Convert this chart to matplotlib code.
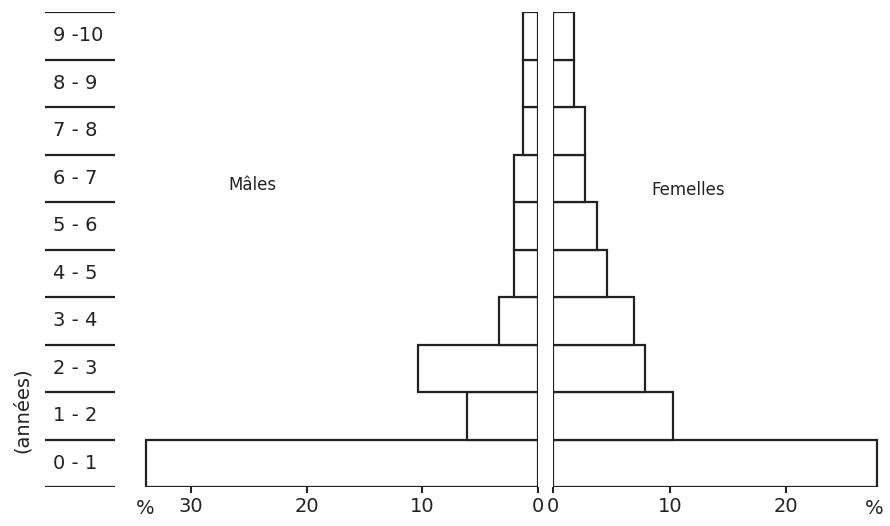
import matplotlib.pyplot as plt

plt.rcParams['font.family'] = ['Liberation Sans Narrow', 'DejaVu Sans']

# Classes d'age (annees), de bas en haut
ages = ['0 - 1', '1 - 2', '2 - 3', '3 - 4', '4 - 5', '5 - 6', '6 - 7', '7 - 8', '8 - 9', '9 -10']
males = [33.9, 6.1, 10.4, 3.4, 2.1, 2.1, 2.1, 1.3, 1.3, 1.3]
femelles = [27.8, 10.3, 7.9, 6.9, 4.6, 3.8, 2.7, 2.7, 1.8, 1.8]

W, H = 890, 526
fig = plt.figure(figsize=(W / 100, H / 100), dpi=100)
fig.patch.set_facecolor('white')

y_bot = 1 - 487 / H
y_h = (487 - 12) / H

def px(x):
    return x / W

ax_l = fig.add_axes([px(130), y_bot, px(538 - 130), y_h])
ax_r = fig.add_axes([px(553), y_bot, px(885 - 553), y_h])
ax_lab = fig.add_axes([px(45), y_bot, px(115 - 45), y_h])

pos = [i + 0.5 for i in range(len(ages))]

ax_l.barh(pos, males, height=1.0, color='white', edgecolor='#222222', linewidth=1.6)
ax_r.barh(pos, femelles, height=1.0, color='white', edgecolor='#222222', linewidth=1.6)

ax_l.set_xlim(35.3, 0)
ax_r.set_xlim(0, 28.45)

for ax in (ax_l, ax_r):
    ax.set_ylim(0, 10)
    for s in ax.spines.values():
        s.set_visible(False)
    ax.set_yticks([])
    ax.tick_params(axis='x', direction='out', length=4, width=1.5,
                   labelsize=14, colors='#222222', pad=3)

ax_l.set_xticks([30, 20, 10, 0])
ax_r.set_xticks([0, 10, 20])

# signes % en bout d'axe
fig.text(px(145), 1 - 509 / H, '%', fontsize=14, ha='center', va='center', color='#222222')
fig.text(px(874), 1 - 509 / H, '%', fontsize=14, ha='center', va='center', color='#222222')

fig.text(px(228), 1 - 185 / H, 'Mâles', fontsize=12, color='#222222',
         ha='left', va='center')
fig.text(px(651), 1 - 190 / H, 'Femelles', fontsize=12, color='#222222',
         ha='left', va='center')

# colonne des classes d'age
ax_lab.set_xlim(0, 1)
ax_lab.set_ylim(0, 10)
ax_lab.axis('off')
ax_lab.hlines(range(len(ages) + 1), 0, 1, color='#222222', linewidth=1.6)
for p, a in zip(pos, ages):
    ax_lab.text(0.12, p, a, fontsize=14, ha='left', va='center', color='#222222')

fig.text(px(22), 1 - 410 / H, '(années)', rotation=90,
         fontsize=14, ha='center', va='center', color='#222222')

fig.savefig('out.png', dpi=100)
